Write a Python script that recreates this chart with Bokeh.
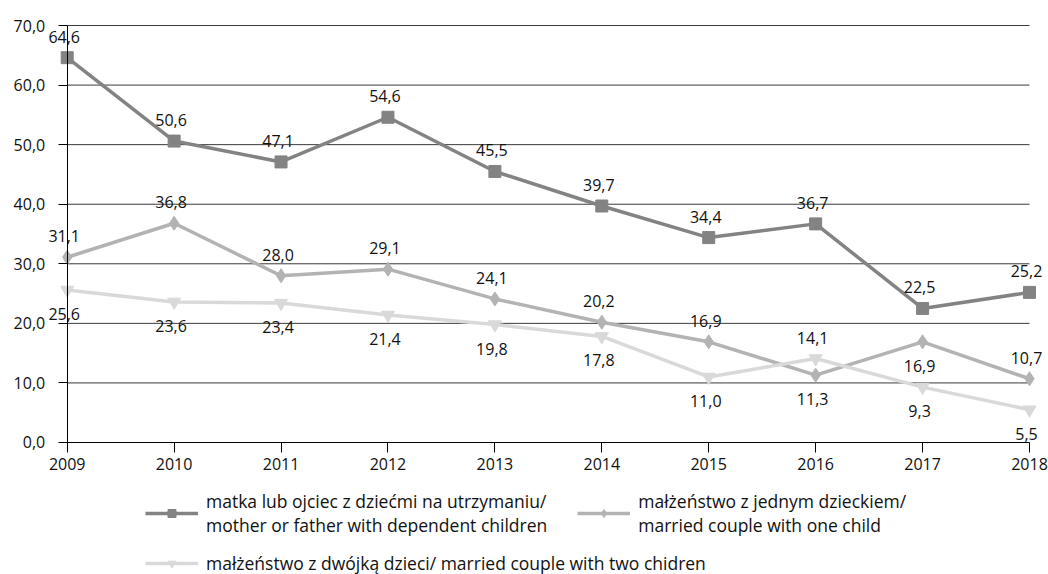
from bokeh.plotting import figure
from bokeh.models import Range1d, FixedTicker, Legend, LegendItem, ColumnDataSource
from bokeh.embed import file_html
from bokeh.resources import INLINE
from bokeh.core.properties import value

years = [2009, 2010, 2011, 2012, 2013, 2014, 2015, 2016, 2017, 2018]
parents = [64.6, 50.6, 47.1, 54.6, 45.5, 39.7, 34.4, 36.7, 22.5, 25.2]
one_child = [31.1, 36.8, 28.0, 29.1, 24.1, 20.2, 16.9, 11.3, 16.9, 10.7]
two_children = [25.6, 23.6, 23.4, 21.4, 19.8, 17.8, 11.0, 14.1, 9.3, 5.5]

y_ticks = [0, 10, 20, 30, 40, 50, 60, 70]
y_tick_labels = ["0,0", "10,0", "20,0", "30,0", "40,0", "50,0", "60,0", "70,0"]

series_names = [
    "matka lub ojciec z dziećmi na utrzymaniu/\nmother or father with dependent children",
    "małżeństwo z jednym dzieckiem/\nmarried couple with one child",
    "małżeństwo z dwójką dzieci/ married couple with two chidren",
]

# label placement relative to the point
side_parents = ["above"] * 10
side_one = ["above"] * 7 + ["below", "below", "above"]
side_two = ["below"] * 7 + ["above", "below", "below"]

FONT = "Open Sans"
TXT = "#111111"
colors = ["#838383", "#b3b3b3", "#d9d9d9"]

# the plotting frame covers the whole canvas; axes are pinned to data locations
p = figure(
    width=1048, height=574, output_backend="svg", toolbar_location=None,
    x_range=Range1d(years[0] - 0.6238, years[-1] + 0.1777),
    y_range=Range1d(y_ticks[0] - 22.16, y_ticks[-1] + 4.2),
    min_border=0,
)
p.title.visible = False
p.outline_line_color = None
p.background_fill_color = "white"
p.xgrid.visible = False
p.ygrid.visible = False

# horizontal grid lines between first and last year
n = len(y_ticks) - 1
p.segment(x0=[years[0]] * n, x1=[years[-1]] * n, y0=y_ticks[1:], y1=y_ticks[1:],
          line_color="#3a3a3a", line_width=1)

ya = p.yaxis[0]
ya.fixed_location = years[0]
ya.bounds = (y_ticks[0], y_ticks[-1])
ya.ticker = FixedTicker(ticks=y_ticks)
ya.major_label_overrides = {t: l for t, l in zip(y_ticks, y_tick_labels)}
ya.axis_line_color = "black"
ya.major_tick_line_color = "black"
ya.major_tick_out = 9
ya.major_tick_in = 0
ya.minor_tick_line_color = None
ya.major_label_standoff = 13
ya.major_label_text_font = FONT
ya.major_label_text_font_size = "16px"
ya.major_label_text_color = TXT

xa = p.xaxis[0]
xa.fixed_location = y_ticks[0]
xa.bounds = (years[0], years[-1])
xa.ticker = FixedTicker(ticks=years)
xa.axis_line_color = "black"
xa.major_tick_line_color = "black"
xa.major_tick_out = 10
xa.major_tick_in = 0
xa.minor_tick_line_color = None
xa.major_label_standoff = 6
xa.major_label_text_font = FONT
xa.major_label_text_font_size = "16px"
xa.major_label_text_color = TXT

markers = ["square", "diamond", "inverted_triangle"]
msizes = [12, 14, 13]
data = [parents, one_child, two_children]
sides = [side_parents, side_one, side_two]
items = []
for vals, col, mk, ms, name in zip(data, colors, markers, msizes, series_names):
    src = ColumnDataSource(dict(x=years, y=vals))
    r1 = p.line("x", "y", source=src, line_color=col, line_width=3.5)
    r2 = p.scatter("x", "y", source=src, marker=mk, size=ms, fill_color=col, line_color=col)
    items.append((name, r1, r2))

for vals, side in zip(data, sides):
    src = ColumnDataSource(dict(
        x=years, y=vals,
        lab=[f"{v:.1f}".replace(".", ",") for v in vals],
        yo=[-21 if s == "above" else 24 for s in side],
    ))
    p.text("x", "y", text="lab", source=src, x_offset=-3, y_offset="yo",
           text_align="center", text_baseline="middle",
           text_font=value(FONT), text_font_size="16px", text_color=TXT)

def mk_legend(its, loc):
    return Legend(items=[LegendItem(label=n, renderers=[a, b]) for n, a, b in its],
                  location=loc, orientation="horizontal",
                  glyph_width=53, glyph_height=20, label_standoff=8, spacing=30,
                  padding=0, margin=0, border_line_color=None,
                  background_fill_alpha=0,
                  label_text_font=FONT, label_text_font_size="17.5px",
                  label_text_color=TXT, label_text_line_height=1.0)

p.add_layout(mk_legend(items[:2], (145, 37)))
p.add_layout(mk_legend(items[2:], (145, -1)))

open("out.html", "w").write(file_html(p, INLINE))
